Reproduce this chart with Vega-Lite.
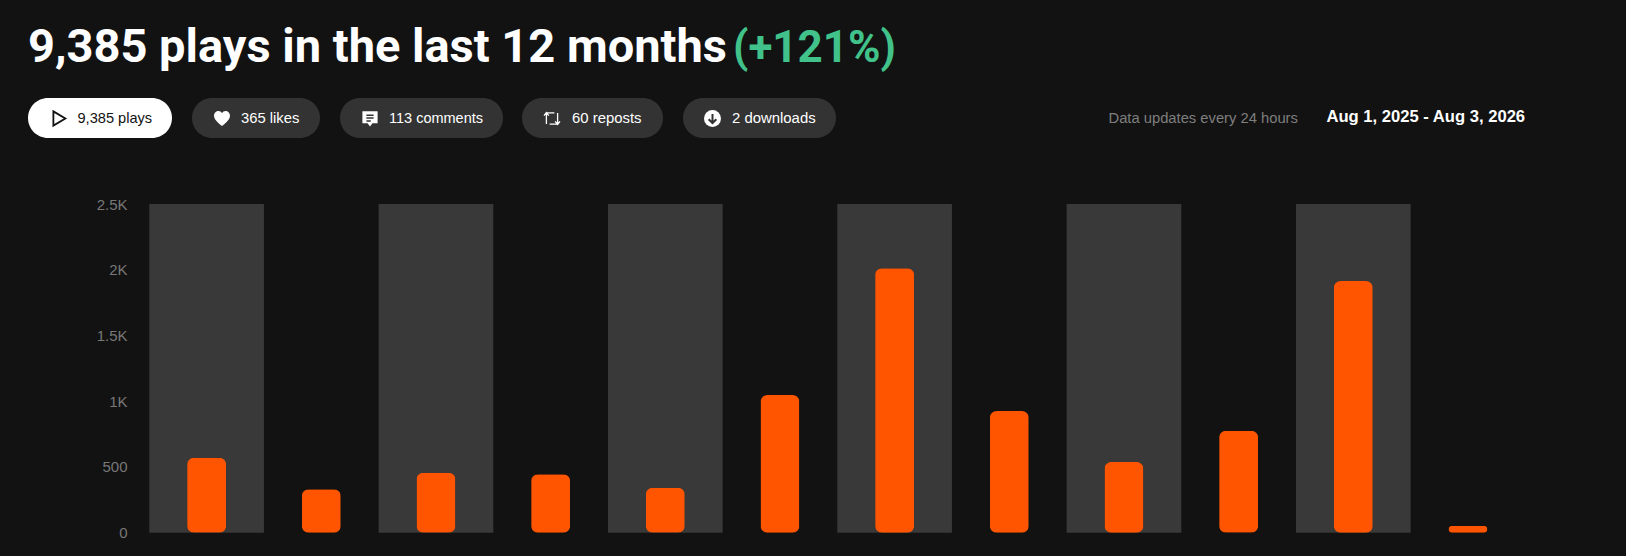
{
  "$schema": "https://vega.github.io/schema/vega-lite/v6.json",
  "width": 1626,
  "height": 556,
  "autosize": {"type": "none"},
  "padding": 0,
  "background": "#121212",
  "config": {
    "view": {"stroke": null},
    "axisX": {"disable": true},
    "axisY": {"disable": true},
    "text": {"font": "Liberation Sans"}
  },
  "resolve": {"scale": {"x": "independent", "y": "independent"}},
  "layer": [
    {
      "data": {
        "values": [
          {"month": "Sep 2025", "plays": 570},
          {"month": "Oct 2025", "plays": 330},
          {"month": "Nov 2025", "plays": 456},
          {"month": "Dec 2025", "plays": 444},
          {"month": "Jan 2026", "plays": 342},
          {"month": "Feb 2026", "plays": 1047},
          {"month": "Mar 2026", "plays": 2012},
          {"month": "Apr 2026", "plays": 925},
          {"month": "May 2026", "plays": 538},
          {"month": "Jun 2026", "plays": 775},
          {"month": "Jul 2026", "plays": 1914},
          {"month": "Aug 2026", "plays": 51}
        ]
      },
      "layer": [
        {
          "transform": [{"filter": {"field": "month", "oneOf": ["Sep 2025", "Nov 2025", "Jan 2026", "Mar 2026", "May 2026", "Jul 2026"]}}],
          "mark": {"type": "bar", "color": "#393939"},
          "encoding": {
            "x": {
              "field": "month",
              "type": "nominal",
              "scale": {
                "type": "band",
                "domain": ["Sep 2025", "Oct 2025", "Nov 2025", "Dec 2025", "Jan 2026", "Feb 2026", "Mar 2026", "Apr 2026", "May 2026", "Jun 2026", "Jul 2026", "Aug 2026"],
                "range": [149.3, 1525.3],
                "paddingInner": 0,
                "paddingOuter": 0
              }
            },
            "y": {
              "datum": 2500,
              "type": "quantitative",
              "stack": null,
              "scale": {"domain": [0, 2500], "range": [532.7, 204], "nice": false},
              "axis": {
                "disable": false,
                "title": null,
                "values": [0, 500, 1000, 1500, 2000, 2500],
                "labelExpr": "datum.value >= 1000 ? datum.value / 1000 + 'K' : datum.value",
                "labelColor": "#787878",
                "labelFont": "Liberation Sans",
                "labelFontSize": 15,
                "labelPadding": 2,
                "offset": -129,
                "grid": false,
                "ticks": false,
                "domain": false
              }
            },
            "y2": {"datum": 0}
          }
        },
        {
          "mark": {"type": "bar", "color": "#ff5500", "width": 39, "cornerRadius": 7},
          "encoding": {
            "x": {"field": "month", "type": "nominal"},
            "y": {
              "field": "plays",
              "type": "quantitative",
              "axis": {
                "disable": false,
                "title": null,
                "values": [0, 500, 1000, 1500, 2000, 2500],
                "labelExpr": "datum.value >= 1000 ? datum.value / 1000 + 'K' : datum.value",
                "labelColor": "#787878",
                "labelFont": "Liberation Sans",
                "labelFontSize": 15,
                "labelPadding": 2,
                "offset": -129,
                "grid": false,
                "ticks": false,
                "domain": false
              }
            }
          }
        }
      ]
    },
    {
      "layer": [
        {
          "data": {"values": [{"headline": "9,385 plays in the last 12 months"}]},
          "mark": {"type": "text", "align": "left", "baseline": "alphabetic", "font": "Roboto", "fontWeight": "bold", "fontSize": 47, "color": "#ffffff"},
          "encoding": {
            "x": {"datum": 28, "type": "quantitative", "scale": {"domain": [0, 1626], "nice": false, "zero": false}},
            "y": {"datum": 62, "type": "quantitative", "scale": {"domain": [556, 0], "nice": false, "zero": false}},
            "text": {"field": "headline"}
          }
        },
        {
          "data": {"values": [{"change": "(+121%)"}]},
          "mark": {"type": "text", "align": "left", "baseline": "alphabetic", "font": "Roboto", "fontWeight": "bold", "fontSize": 44, "color": "#41c28a"},
          "encoding": {
            "x": {"datum": 733, "type": "quantitative"},
            "y": {"datum": 62, "type": "quantitative"},
            "text": {"field": "change"}
          }
        },
        {
          "data": {"values": [{"chip": "9,385 plays"}]},
          "layer": [
            {
              "mark": {"type": "rect", "color": "#ffffff", "cornerRadius": 20},
              "encoding": {"x": {"datum": 28, "type": "quantitative"}, "x2": {"datum": 172}, "y": {"datum": 98, "type": "quantitative"}, "y2": {"datum": 138}}
            },
            {
              "mark": {"type": "point", "shape": "M-0.75,-0.95 L0.85,0 L-0.75,0.95 Z", "size": 225, "filled": false, "opacity": 1, "stroke": "#121212", "strokeWidth": 1.8},
              "encoding": {"x": {"datum": 59, "type": "quantitative"}, "y": {"datum": 118.5, "type": "quantitative"}}
            },
            {
              "mark": {"type": "text", "align": "left", "baseline": "middle", "fontSize": 14.6, "color": "#121212"},
              "encoding": {"x": {"datum": 77.5, "type": "quantitative"}, "y": {"datum": 118.5, "type": "quantitative"}, "text": {"field": "chip"}}
            }
          ]
        },
        {
          "data": {"values": [{"chip": "365 likes"}]},
          "layer": [
            {
              "mark": {"type": "rect", "color": "#333333", "cornerRadius": 20},
              "encoding": {"x": {"datum": 192, "type": "quantitative"}, "x2": {"datum": 320}, "y": {"datum": 98, "type": "quantitative"}, "y2": {"datum": 138}}
            },
            {
              "mark": {"type": "point", "shape": "M0,0.95 C-0.3,0.65 -1,0.2 -1,-0.35 C-1,-0.75 -0.7,-0.95 -0.45,-0.95 C-0.25,-0.95 -0.1,-0.85 0,-0.65 C0.1,-0.85 0.25,-0.95 0.45,-0.95 C0.7,-0.95 1,-0.75 1,-0.35 C1,0.2 0.3,0.65 0,0.95 Z", "size": 256, "filled": true, "opacity": 1, "color": "#ffffff"},
              "encoding": {"x": {"datum": 222, "type": "quantitative"}, "y": {"datum": 118.5, "type": "quantitative"}}
            },
            {
              "mark": {"type": "text", "align": "left", "baseline": "middle", "fontSize": 14.8, "color": "#ffffff"},
              "encoding": {"x": {"datum": 241, "type": "quantitative"}, "y": {"datum": 118.5, "type": "quantitative"}, "text": {"field": "chip"}}
            }
          ]
        },
        {
          "data": {"values": [{"chip": "113 comments"}]},
          "layer": [
            {
              "mark": {"type": "rect", "color": "#333333", "cornerRadius": 20},
              "encoding": {"x": {"datum": 340, "type": "quantitative"}, "x2": {"datum": 503}, "y": {"datum": 98, "type": "quantitative"}, "y2": {"datum": 138}}
            },
            {
              "mark": {"type": "point", "shape": "M-0.95,-0.9 L0.95,-0.9 L0.95,0.6 L0.3,0.6 L0,1 L-0.3,0.6 L-0.95,0.6 Z", "size": 256, "filled": true, "opacity": 1, "color": "#ffffff"},
              "encoding": {"x": {"datum": 370, "type": "quantitative"}, "y": {"datum": 118.5, "type": "quantitative"}}
            },
            {
              "mark": {"type": "point", "shape": "M-0.45,-0.4 L0.45,-0.4 M-0.45,-0.05 L0.45,-0.05 M-0.45,0.3 L0.1,0.3", "size": 256, "filled": false, "opacity": 1, "stroke": "#333333", "strokeWidth": 1.5},
              "encoding": {"x": {"datum": 370, "type": "quantitative"}, "y": {"datum": 118.5, "type": "quantitative"}}
            },
            {
              "mark": {"type": "text", "align": "left", "baseline": "middle", "fontSize": 14.5, "color": "#ffffff"},
              "encoding": {"x": {"datum": 389, "type": "quantitative"}, "y": {"datum": 118.5, "type": "quantitative"}, "text": {"field": "chip"}}
            }
          ]
        },
        {
          "data": {"values": [{"chip": "60 reposts"}]},
          "layer": [
            {
              "mark": {"type": "rect", "color": "#333333", "cornerRadius": 20},
              "encoding": {"x": {"datum": 522, "type": "quantitative"}, "x2": {"datum": 663}, "y": {"datum": 98, "type": "quantitative"}, "y2": {"datum": 138}}
            },
            {
              "mark": {"type": "point", "shape": "M-0.7,0.7 L-0.7,-0.7 L0.3,-0.7 M-1,-0.35 L-0.7,-0.75 L-0.4,-0.35 M0.7,-0.7 L0.7,0.7 L-0.3,0.7 M1,0.35 L0.7,0.75 L0.4,0.35", "size": 256, "filled": false, "opacity": 1, "stroke": "#ffffff", "strokeWidth": 1.3},
              "encoding": {"x": {"datum": 552, "type": "quantitative"}, "y": {"datum": 118.5, "type": "quantitative"}}
            },
            {
              "mark": {"type": "text", "align": "left", "baseline": "middle", "fontSize": 14.9, "color": "#ffffff"},
              "encoding": {"x": {"datum": 572, "type": "quantitative"}, "y": {"datum": 118.5, "type": "quantitative"}, "text": {"field": "chip"}}
            }
          ]
        },
        {
          "data": {"values": [{"chip": "2 downloads"}]},
          "layer": [
            {
              "mark": {"type": "rect", "color": "#333333", "cornerRadius": 20},
              "encoding": {"x": {"datum": 683, "type": "quantitative"}, "x2": {"datum": 836}, "y": {"datum": 98, "type": "quantitative"}, "y2": {"datum": 138}}
            },
            {
              "mark": {"type": "point", "shape": "circle", "size": 289, "filled": true, "opacity": 1, "color": "#ffffff"},
              "encoding": {"x": {"datum": 712.5, "type": "quantitative"}, "y": {"datum": 118.5, "type": "quantitative"}}
            },
            {
              "mark": {"type": "point", "shape": "M0,-0.65 L0,0.6 M-0.55,0.1 L0,0.65 L0.55,0.1", "size": 196, "filled": false, "opacity": 1, "stroke": "#333333", "strokeWidth": 2},
              "encoding": {"x": {"datum": 712.5, "type": "quantitative"}, "y": {"datum": 118.5, "type": "quantitative"}}
            },
            {
              "mark": {"type": "text", "align": "left", "baseline": "middle", "fontSize": 14.9, "color": "#ffffff"},
              "encoding": {"x": {"datum": 732, "type": "quantitative"}, "y": {"datum": 118.5, "type": "quantitative"}, "text": {"field": "chip"}}
            }
          ]
        },
        {
          "data": {"values": [{"note": "Data updates every 24 hours"}]},
          "mark": {"type": "text", "align": "left", "baseline": "middle", "fontSize": 14.75, "color": "#7e7e7e"},
          "encoding": {"x": {"datum": 1108.5, "type": "quantitative"}, "y": {"datum": 119, "type": "quantitative"}, "text": {"field": "note"}}
        },
        {
          "data": {"values": [{"period": "Aug 1, 2025 - Aug 3, 2026"}]},
          "mark": {"type": "text", "align": "left", "baseline": "middle", "fontSize": 16.6, "fontWeight": "bold", "color": "#ffffff"},
          "encoding": {"x": {"datum": 1326.5, "type": "quantitative"}, "y": {"datum": 117, "type": "quantitative"}, "text": {"field": "period"}}
        }
      ]
    }
  ]
}
